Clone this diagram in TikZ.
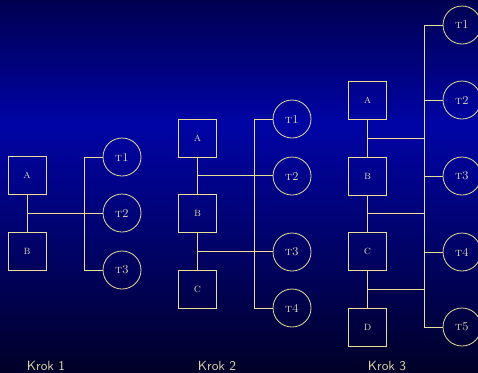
\documentclass[tikz,border=0pt]{standalone}
\usetikzlibrary{calc}
\definecolor{linie}{RGB}{232,222,150}
\definecolor{napis}{RGB}{225,218,170}
\definecolor{tlo1}{RGB}{0,0,80}
\definecolor{tlo2}{RGB}{0,4,165}
\definecolor{tlo3}{RGB}{0,0,40}
\tikzset{
    zadanie/.style={draw=linie,line width=0.6pt,minimum size=28.5pt,inner sep=0pt,
        font=\small\scshape,text=napis},
    watek/.style={circle,draw=linie,line width=0.6pt,minimum size=28.5pt,inner sep=0pt,
        font=\small\scshape,text=napis},
    polacz/.style={draw=linie,line width=0.6pt},
    krok/.style={font=\sffamily,text=napis}
}
\begin{document}
\begin{tikzpicture}[x=0.75pt,y=-0.75pt]
    \useasboundingbox (0,0) rectangle (478,372);
    \shade[top color=tlo1,bottom color=tlo2] (0,0) rectangle (478,125);
    \shade[top color=tlo2,bottom color=tlo3] (0,125) rectangle (478,372);
    % Krok 1
    \node[zadanie] (k1a) at (27,175) {a};
    \node[zadanie] (k1b) at (27,251) {b};
    \foreach \i/\y in {1/157,2/213,3/270} {
      \node[watek] (k1t\i) at (122,\y) {t\i};
    }
    \coordinate (bus1) at (84,0);
    \draw[polacz] (k1a) -- (k1b);
    \draw[polacz] (k1t1.west) -- (k1t1.west -| bus1) -- (k1t3.west -| bus1) -- (k1t3.west);
    \coordinate (m1ab) at ($(k1a.south)!0.5!(k1b.north)$);
    \draw[polacz] (m1ab) -- (m1ab -| k1t2.west);
    \node[krok] (krok1) at (46,366) {Krok 1};
    % Krok 2
    \node[zadanie] (k2a) at (197.5,138) {a};
    \node[zadanie] (k2b) at (197.5,213.5) {b};
    \node[zadanie] (k2c) at (197.5,289) {c};
    \foreach \i/\y in {1/119,2/176,3/252,4/308} {
      \node[watek] (k2t\i) at (292,\y) {t\i};
    }
    \coordinate (bus2) at (254,0);
    \draw[polacz] (k2a) -- (k2b) -- (k2c);
    \draw[polacz] (k2t1.west) -- (k2t1.west -| bus2) -- (k2t4.west -| bus2) -- (k2t4.west);
    \coordinate (m2ab) at ($(k2a.south)!0.5!(k2b.north)$);
    \coordinate (m2bc) at ($(k2b.south)!0.5!(k2c.north)$);
    \draw[polacz] (m2ab) -- (m2ab -| k2t2.west);
    \draw[polacz] (m2bc) -- (m2bc -| k2t3.west);
    \node[krok] (krok2) at (217,366) {Krok 2};
    % Krok 3
    \node[zadanie] (k3a) at (367.5,100) {a};
    \node[zadanie] (k3b) at (367.5,176) {b};
    \node[zadanie] (k3c) at (367.5,251) {c};
    \node[zadanie] (k3d) at (367.5,327) {d};
    \coordinate (bus3) at (424,0);
    \foreach \i/\y in {1/25,2/100,3/176,4/252,5/327} {
      \node[watek] (k3t\i) at (462,\y) {t\i};
      \draw[polacz] (k3t\i.west) -- (k3t\i.west -| bus3);
    }
    \draw[polacz] (k3a) -- (k3b) -- (k3c) -- (k3d);
    \draw[polacz] (k3t1.west -| bus3) -- (k3t5.west -| bus3);
    \foreach \p/\q in {a/b,b/c,c/d} {
      \coordinate (m3\p\q) at ($(k3\p.south)!0.5!(k3\q.north)$);
      \draw[polacz] (m3\p\q) -- (m3\p\q -| bus3);
    }
    \node[krok] (krok3) at (387,366) {Krok 3};
\end{tikzpicture}
\end{document}
